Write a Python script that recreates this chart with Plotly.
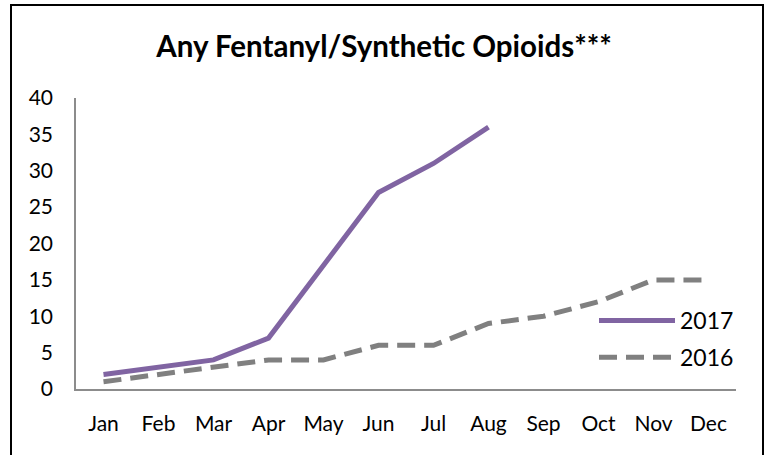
import plotly.graph_objects as go

months = ["Jan", "Feb", "Mar", "Apr", "May", "Jun", "Jul", "Aug", "Sep", "Oct", "Nov", "Dec"]
values_2017 = [2, 3, 4, 7, 17, 27, 31, 36]
values_2016 = [1, 2, 3, 4, 4, 6, 6, 9, 10, 12, 15, 15]
y_ticks = [0, 5, 10, 15, 20, 25, 30, 35, 40]

FONT = "Lato, 'Open Sans', sans-serif"

fig = go.Figure()
fig.add_trace(go.Scatter(
    x=months[:len(values_2017)], y=values_2017, name="2017", mode="lines",
    legendgroup="a", line=dict(color="#8064A2", width=5),
))
fig.add_trace(go.Scatter(
    x=months, y=values_2016, name="2016", mode="lines",
    legendgroup="b", line=dict(color="#808080", width=5, dash="18px,9px"),
))

L, R, T, B = 76, 32, 98, 66
W, H = 768, 455
pw, ph = W - L - R, H - T - B

def px_x(x):
    return (x - L) / pw

def px_y(y):
    return (H - B - y) / ph

fig.add_shape(type="rect", xref="paper", yref="paper",
              x0=px_x(11), x1=px_x(763), y0=px_y(500), y1=px_y(5),
              line=dict(color="black", width=2), fillcolor="rgba(0,0,0,0)", layer="below")

fig.update_layout(
    width=W, height=H,
    margin=dict(l=L, r=R, t=T, b=B),
    paper_bgcolor="white", plot_bgcolor="white",
    font=dict(family=FONT, size=21, color="black"),
    title=dict(text="<b>Any Fentanyl/Synthetic Opioids***</b>", x=0.5, xref="container",
               xanchor="center", y=1 - 47 / H, yref="container", yanchor="middle",
               font=dict(family=FONT, size=29.5, color="black")),
    showlegend=True,
    legend=dict(x=px_x(594), y=px_y(299), xanchor="left", yanchor="top",
                bgcolor="rgba(0,0,0,0)", font=dict(size=23), itemwidth=76,
                tracegroupgap=4, traceorder="grouped"),
    xaxis=dict(
        type="category", categoryorder="array", categoryarray=months,
        range=[-0.5, 11.5], showline=True, linecolor="#8C8C8C", linewidth=1.5,
        showgrid=False, zeroline=False, ticks="outside", ticklen=15,
        tickcolor="rgba(0,0,0,0)", tickfont=dict(size=21),
    ),
    yaxis=dict(
        range=[0, 40], tickvals=y_ticks, showline=True, linecolor="#8C8C8C",
        linewidth=1.5, showgrid=False, zeroline=False, ticks="outside",
        ticklen=17, tickcolor="rgba(0,0,0,0)", tickfont=dict(size=21),
    ),
)

fig.write_html("out.html", config={"displayModeBar": False},
               post_script="document.body.style.margin='0px';")
